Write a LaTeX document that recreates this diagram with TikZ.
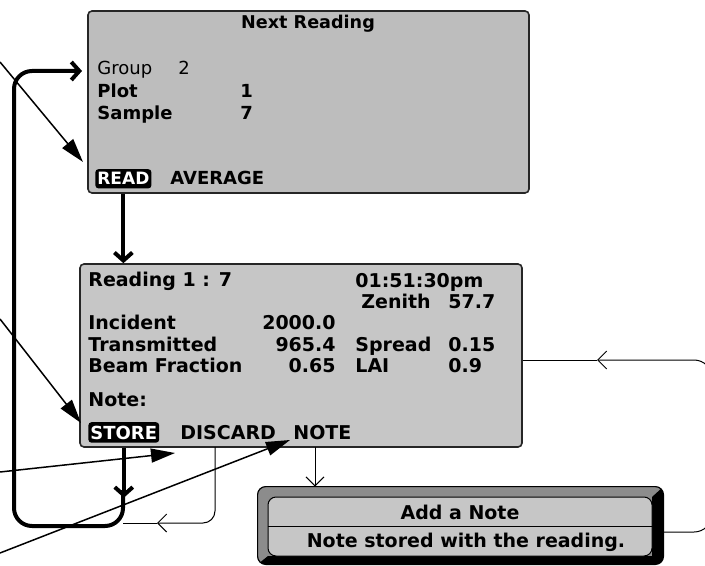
\documentclass[tikz,border=0pt]{standalone}
\usepackage{fontspec}
\setmainfont{DejaVu Sans}
\usetikzlibrary{positioning, arrows.meta, fit, calc}

\begin{document}
\begin{tikzpicture}[
            x=0.5pt, y=-0.5pt,
            screen/.style={draw=black!85, line width=0.8pt, rounded corners=2pt, inner sep=0pt},
            title/.style={font=\fontsize{8.8}{10}\selectfont\bfseries, anchor=base, inner sep=0pt},
            txt/.style={font=\fontsize{9}{11}\selectfont\bfseries, anchor=base west, inner sep=0pt},
            lcd/.style={font=\fontsize{9.5}{11}\selectfont\bfseries, anchor=base west, inner sep=0pt},
            num/.style={lcd, anchor=base east},
            inv/.style={fill=black, text=white, rounded corners=1.5pt, inner xsep=1pt, inner ysep=1.7pt},
            callout/.style={line width=0.75pt, -{Triangle[length=12pt, width=7pt]}},
            flow/.style={line width=2pt, -{Straight Barb[length=4pt, width=9pt]}},
            back/.style={line width=0.5pt},
            backarrow/.style={back, -{Straight Barb[length=4.5pt, width=9pt]}},
        ]
        \useasboundingbox (0,0) rectangle (705,566);

        % Draw the first screen
        \node[screen, fill=gray!52, fit={(88,11) (529,193)}] (next) {};
        \node[title] (nexttitle) at (308,29) {Next Reading};
        \node[txt, font=\fontsize{9}{11}\selectfont] (group) at (97,75) {Group};
        \node[txt, font=\fontsize{9}{11}\selectfont] (groupval) at (178,75) {2};
        \node[txt] (plot) at (97,98) {Plot};
        \node[txt] (plotval) at (240,98) {1};
        \node[txt] (sample) at (97,120) {Sample};
        \node[txt] (sampleval) at (240,120) {7};
        \node[txt, inv, font=\fontsize{8.5}{10}\selectfont\bfseries] (read) at (95,185) {READ};
        \node[txt] (average) at (170,185) {AVERAGE};

        % Draw the second screen
        \node[screen, fill=gray!45, fit={(80,264) (522,447)}] (reading) {};
        \node[lcd] (readno) at (88,286) {Reading 1 : 7};
        \node[lcd] (clock) at (355,287) {01:51:30pm};
        \node[lcd] (zenith) at (361,308) {Zenith};
        \node[lcd] (zenithval) at (448,308) {57.7};
        \node[lcd] (incident) at (88,329) {Incident};
        \node[num] (incidentval) at (336,329) {2000.0};
        \node[lcd] (trans) at (88,351) {Transmitted};
        \node[num] (transval) at (336,351) {965.4};
        \node[lcd] (spread) at (355,351) {Spread};
        \node[lcd] (spreadval) at (448,351) {0.15};
        \node[lcd] (beam) at (88,372) {Beam Fraction};
        \node[num] (beamval) at (336,372) {0.65};
        \node[lcd] (lai) at (355,372) {LAI};
        \node[lcd] (laival) at (448,372) {0.9};
        \node[lcd] (note) at (88,406) {Note:};
        \node[lcd, inv, font=\fontsize{9}{11}\selectfont\bfseries] (store) at (88,439) {STORE};
        \node[lcd] (discard) at (180,439) {DISCARD};
        \node[lcd] (notekey) at (293,439) {NOTE};

        % Draw the note dialog
        \node[fit={(258,487) (663,564)}, inner sep=0pt] (notebox) {};
        \begin{scope}
            \clip[rounded corners=4pt] (notebox.north west) rectangle (notebox.south east);
            \fill[black!45] (notebox.north west) rectangle (notebox.south east);
            \fill[black] (notebox.north east) -- (652,497) -- (652,556) -- (268,556)
                -- (notebox.south west) -- (notebox.south east) -- cycle;
        \end{scope}
        \draw[line width=0.6pt, rounded corners=4pt] (notebox.north west) rectangle (notebox.south east);
        \node[draw, line width=0.5pt, fill=gray!45, rounded corners=4pt, inner sep=0pt,
            fit={(268,497) (652,556)}] (noteinner) {};
        \draw[line width=0.6pt] (noteinner.west) -- (noteinner.east);
        \node[lcd, anchor=base] (addtitle) at (460,519) {Add a Note};
        \node[lcd, anchor=base] (addmsg) at (466,547) {Note stored with the reading.};

        % Thick flow from screen to screen
        \draw[flow] (read.south |- next.south) -- (read.south |- reading.north);
        \draw[flow] (store.south |- reading.south) -- ++(0,50);
        \coordinate (loopstart) at (123,490);
        \coordinate (loopcorner) at (14,526);
        \coordinate (loophit) at (82,71);
        \draw[flow, rounded corners=9pt] (loopstart) |- (loopcorner) |- (loophit);

        % Thin return paths
        \coordinate (discardfoot) at (215,447);
        \coordinate (discardtip) at (157,523);
        \coordinate (discardend) at (123,523);
        \draw[backarrow, rounded corners=6pt] (discardfoot) |- (discardtip);
        \draw[back] (discardtip) -- (discardend);

        \coordinate (notefoot) at (315,447);
        \draw[backarrow] (notefoot) -- (notefoot |- notebox.north);

        \coordinate (noteout) at (663,532);
        \coordinate (rightturn) at (712,446);
        \coordinate (righttip) at (597,360);
        \draw[backarrow, rounded corners=9pt] (noteout) -| (rightturn) |- (righttip);
        \draw[back] (righttip) -- (righttip -| reading.east);

        % Callouts from the left
        \coordinate (readcall) at (0,62);
        \coordinate (readhit) at (83,162);
        \coordinate (storecall) at (0,319);
        \coordinate (storehit) at (81,423);
        \coordinate (discardcall) at (0,472);
        \coordinate (discardhit) at (175,453);
        \coordinate (notecall) at (0,553);
        \coordinate (notehit) at (290,440);
        \draw[callout] (readcall) -- (readhit);
        \draw[callout] (storecall) -- (storehit);
        \draw[callout] (discardcall) -- (discardhit);
        \draw[callout] (notecall) -- (notehit);
    \end{tikzpicture}
\end{document}
